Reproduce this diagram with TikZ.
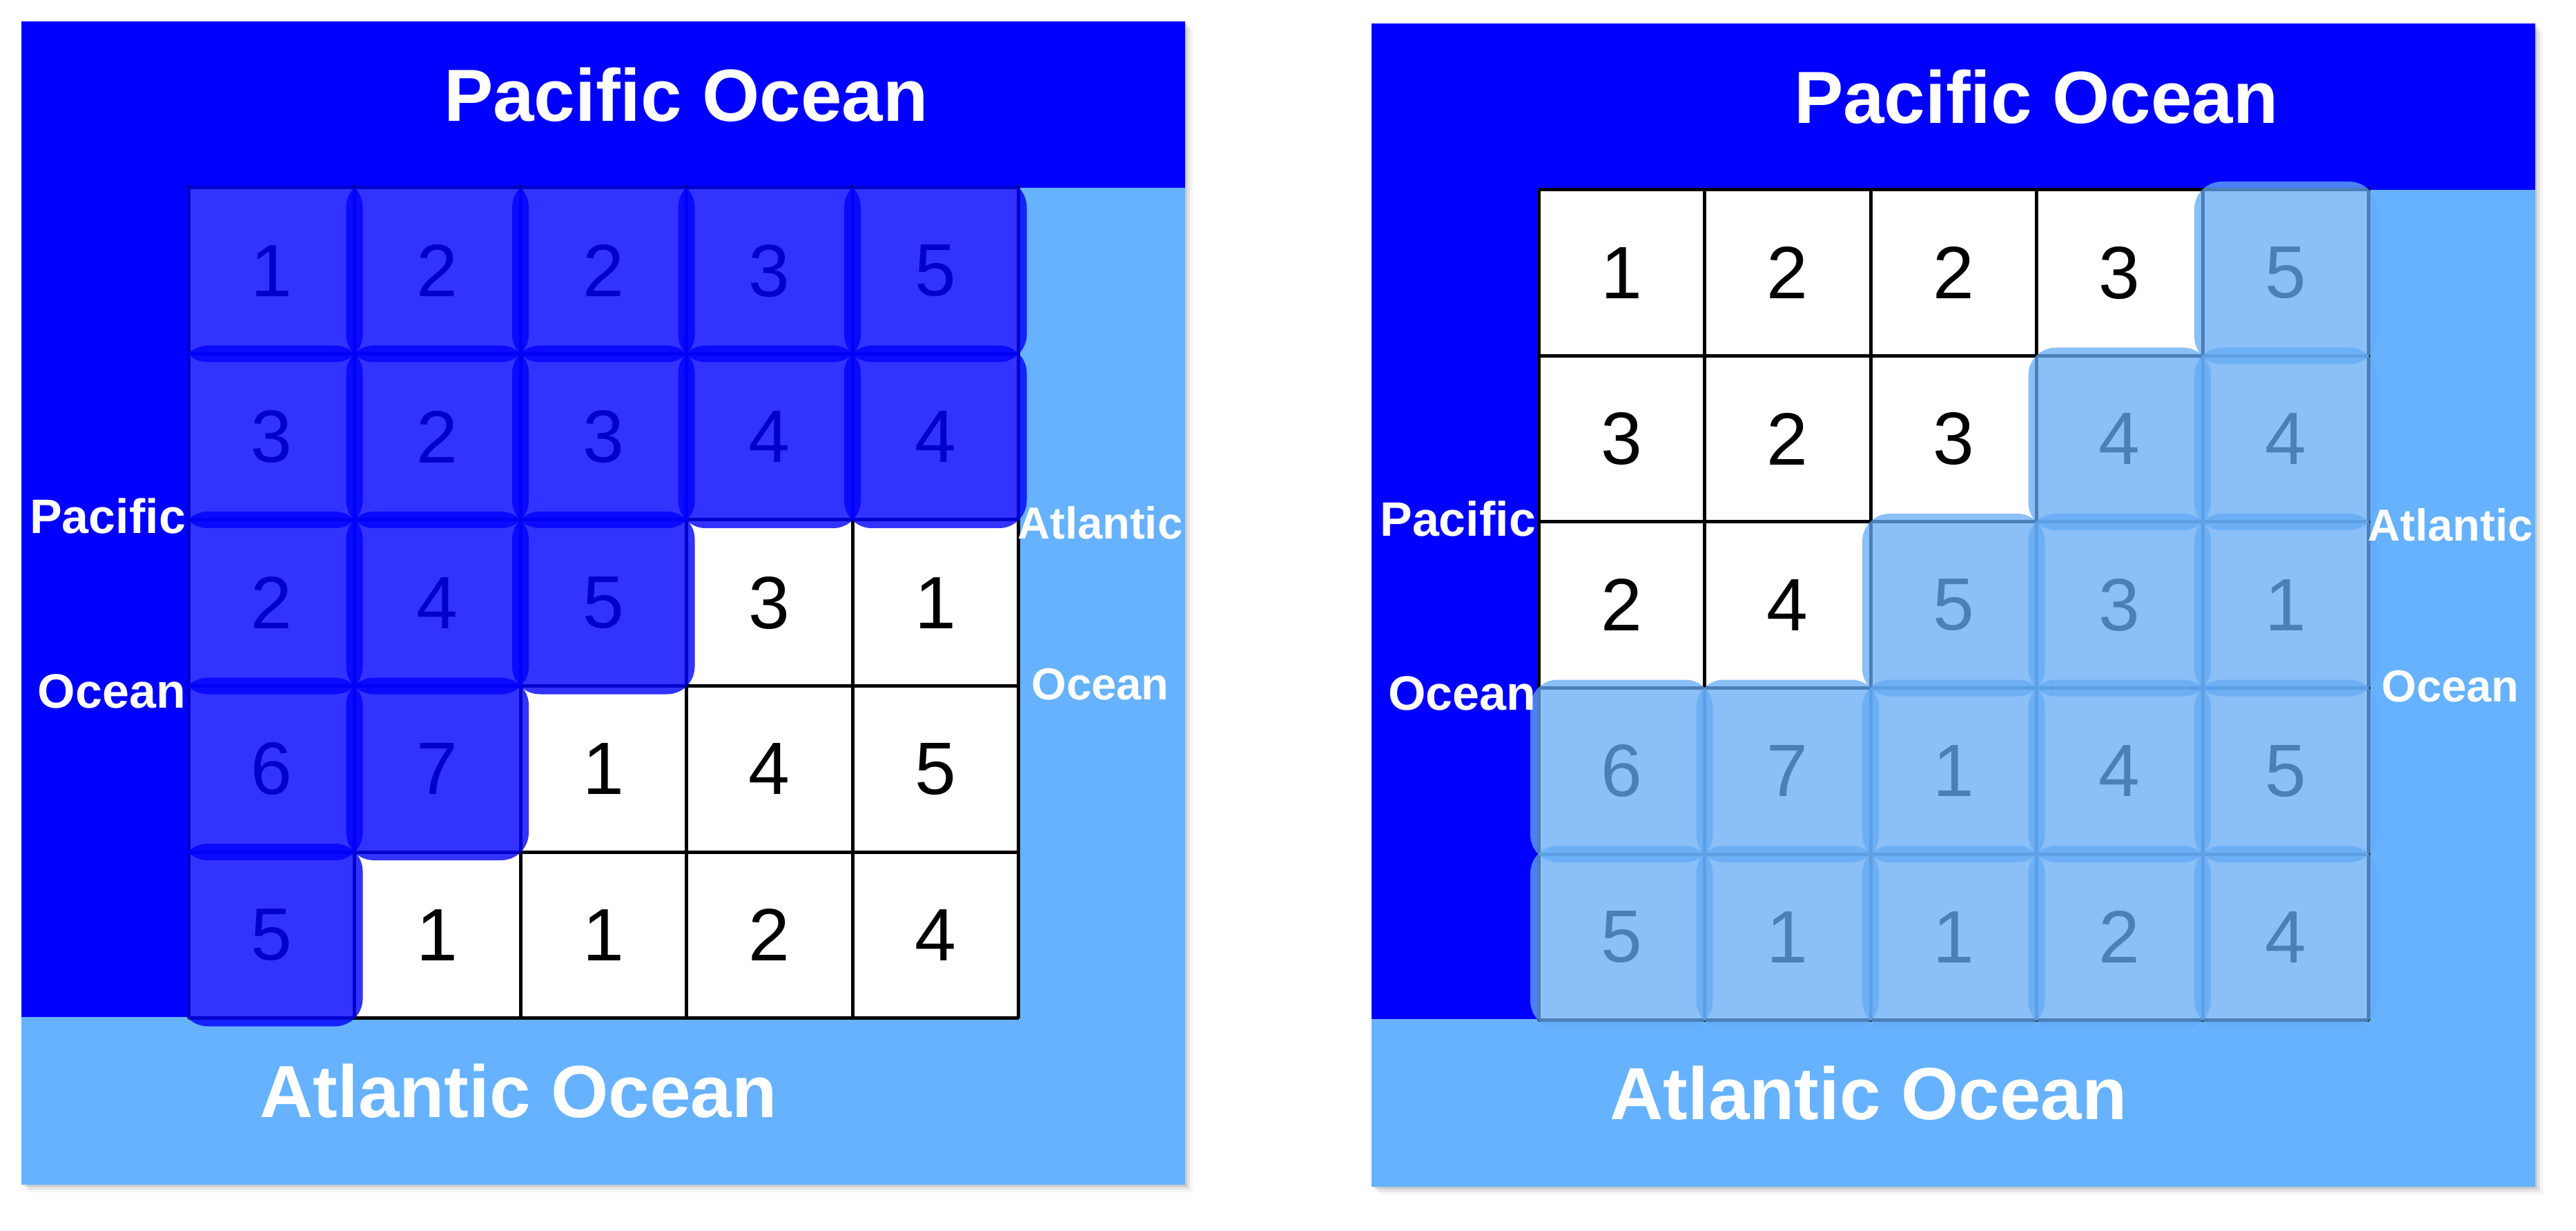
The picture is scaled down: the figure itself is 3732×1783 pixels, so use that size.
\documentclass[tikz,border=0pt]{standalone}
\usepackage{fontspec}
\setmainfont{Liberation Sans}
\definecolor{pac}{RGB}{0,0,255}
\definecolor{atl}{RGB}{102,178,255}
\definecolor{markA}{RGB}{0,0,255}
\definecolor{markB}{RGB}{100,170,245}
\tikzset{
  gridline/.style={line width=1pt, black},
  digit/.style={inner sep=0pt, font=\fontsize{21.5pt}{24pt}\selectfont},
  bigocean/.style={inner sep=0pt, text=white, font=\fontsize{21.4pt}{24pt}\selectfont\bfseries},
  sideL/.style={inner sep=0pt, text=white, font=\fontsize{14pt}{16pt}\selectfont\bfseries},
  sideR/.style={inner sep=0pt, text=white, font=\fontsize{13pt}{15pt}\selectfont\bfseries},
}
\newcommand\oceanpanel[4]{%
  \foreach \k/\o in {3/0.10,7/0.07,11/0.04}{\fill[black,opacity=\o] (\k,\k) rectangle (1686+\k,1685+\k);}
  \fill[atl] (0,0) rectangle (1686,1685);
  \fill[pac] (0,0) rectangle (1686,241);
  \fill[pac] (0,241) rectangle (242,1442);
  \fill[white] (242,241) rectangle (1444.5,1443.5);
  \foreach \v [count=\i from 0] in {1,2,2,3,5,3,2,3,4,4,2,4,5,3,1,6,7,1,4,5,5,1,1,2,4}{%
    \pgfmathtruncatemacro\rr{\i/5}%
    \pgfmathtruncatemacro\cc{\i-5*\rr}%
    \node[digit] (#1-\rr-\cc) at (242+120.25+\cc*240.5, 241+120.25+\rr*240.5) {\v};
  }
  \foreach \i in {0,...,5}{%
    \draw[gridline] (242+\i*240.5,241) -- (242+\i*240.5,1443.5);
    \draw[gridline] (242,241+\i*240.5) -- (1444.5,241+\i*240.5);
  }
  \foreach \r/\c in {#2}{%
    \fill[#3,opacity=#4,rounded corners=8pt] (242+\c*240.5-12,241+\r*240.5-12) rectangle ++(264.5,264.5);
  }
  \node[bigocean, anchor=base] (#1-pt) at (963,145) {Pacific Ocean};
  \node[bigocean, anchor=base] (#1-ab) at (720,1587) {Atlantic Ocean};
  \node[sideL, anchor=base east] (#1-pl1) at (239,742) {Pacific};
  \node[sideL, anchor=base east] (#1-pl2) at (239,994) {Ocean};
  \node[sideR, anchor=base] (#1-ar1) at (1563,749) {Atlantic};
  \node[sideR, anchor=base] (#1-ar2) at (1563,982) {Ocean};
}
\begin{document}
\begin{tikzpicture}[x=0.2pt,y=-0.2pt]
\useasboundingbox (0,0) rectangle (3732,1783);
\fill[white] (0,0) rectangle (3732,1783);
\begin{scope}[shift={(31,31)}]
  \oceanpanel{L}{0/0,0/1,0/2,0/3,0/4,1/0,1/1,1/2,1/3,1/4,2/0,2/1,2/2,3/0,3/1,4/0}{markA}{0.8}
\end{scope}
\begin{scope}[shift={(1987,34)}]
  \oceanpanel{R}{0/4,1/3,1/4,2/2,2/3,2/4,3/0,3/1,3/2,3/3,3/4,4/0,4/1,4/2,4/3,4/4}{markB}{0.75}
\end{scope}
\end{tikzpicture}
\end{document}
